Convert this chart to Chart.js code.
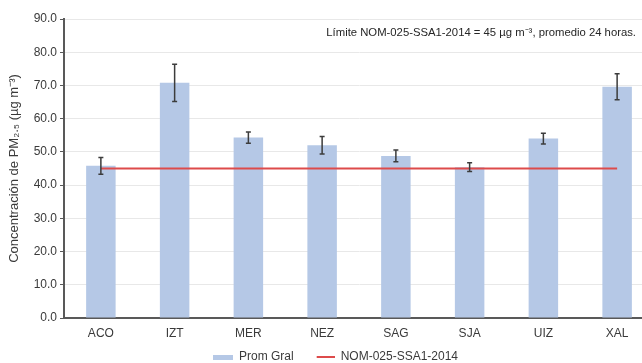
<!DOCTYPE html>
<html>
<head>
<meta charset="utf-8">
<script src="https://cdn.jsdelivr.net/npm/chart.js@4"></script>
<style>
  html, body { margin: 0; padding: 0; overflow: hidden; background: #fff; }
  #wrap { width: 654px; height: 373px; }
</style>
</head>
<body>
<div id="wrap"><canvas id="c"></canvas></div>
<script>
// Estaciones de monitoreo
const stations = ['ACO', 'IZT', 'MER', 'NEZ', 'SAG', 'SJA', 'UIZ', 'XAL'];
// Promedio general de PM2.5 (µg m-3)
const promGral = [45.8, 70.8, 54.3, 52.0, 48.8, 45.4, 54.0, 69.6];
// Semi-amplitud de las barras de error
const promErr = [2.5, 5.6, 1.7, 2.6, 1.8, 1.3, 1.6, 3.9];
// Límite normativo de 24 horas
const normLimit = [45, 45, 45, 45, 45, 45, 45, 45];
// Eje Y
const yMin = 0, yMax = 90, yStep = 10;

const FONT = "'Liberation Sans', Arial, sans-serif";
const BAR_COLOR = '#b5c8e6';
const LINE_COLOR = '#dd4b4b';
const INK = '#3a3a3a';
const KEY_W = 37;

// Legend key: a coloured strip right-aligned in a transparent box
function keyImage(w, h, color) {
  const c = document.createElement('canvas');
  c.width = KEY_W; c.height = h;
  const g = c.getContext('2d');
  g.fillStyle = color;
  g.fillRect(KEY_W - w, 0, w, h);
  return c;
}

const errorBars = {
  id: 'errorBars',
  afterDatasetsDraw(chart) {
    const meta = chart.getDatasetMeta(0);
    const y = chart.scales.y;
    const ctx = chart.ctx;
    ctx.save();
    ctx.strokeStyle = '#3c3c3c';
    ctx.lineWidth = 1.5;
    meta.data.forEach((bar, i) => {
      const top = y.getPixelForValue(promGral[i] + promErr[i]);
      const bot = y.getPixelForValue(promGral[i] - promErr[i]);
      const x = bar.x;
      ctx.beginPath();
      ctx.moveTo(x, top); ctx.lineTo(x, bot);
      ctx.moveTo(x - 2.5, top); ctx.lineTo(x + 2.5, top);
      ctx.moveTo(x - 2.5, bot); ctx.lineTo(x + 2.5, bot);
      ctx.stroke();
    });
    ctx.restore();
  }
};

const noteText = {
  id: 'noteText',
  afterDraw(chart) {
    const a = chart.chartArea;
    const ctx = chart.ctx;
    ctx.save();
    ctx.font = '11.3px ' + FONT;
    ctx.fillStyle = '#262626';
    ctx.textAlign = 'right';
    ctx.textBaseline = 'middle';
    ctx.fillText('Límite NOM-025-SSA1-2014 = 45 µg m\u207B\u00B3, promedio 24 horas.', a.right - 18, a.top + 14);
    ctx.restore();
  }
};

new Chart(document.getElementById('c'), {
  data: {
    labels: stations,
    datasets: [
      {
        type: 'bar',
        label: 'Prom Gral',
        data: promGral,
        backgroundColor: BAR_COLOR,
        categoryPercentage: 1,
        barPercentage: 0.4,
        order: 1,
        pointStyle: keyImage(20, 5, BAR_COLOR)
      },
      {
        type: 'line',
        label: 'NOM-025-SSA1-2014',
        data: normLimit,
        borderColor: LINE_COLOR,
        backgroundColor: LINE_COLOR,
        borderWidth: 2,
        pointRadius: 0,
        order: 0,
        pointStyle: keyImage(18, 2, LINE_COLOR)
      }
    ]
  },
  options: {
    responsive: true,
    maintainAspectRatio: false,
    animation: false,
    layout: { padding: { top: 19, right: 0, bottom: 0, left: 0 } },
    plugins: {
      tooltip: { enabled: false },
      legend: {
        position: 'bottom',
        labels: {
          usePointStyle: true,
          pointStyleWidth: KEY_W,
          font: { family: FONT, size: 12 },
          color: INK,
          padding: 4,
          sort: (a, b) => a.datasetIndex - b.datasetIndex
        }
      }
    },
    scales: {
      x: {
        grid: { display: false, drawTicks: false },
        border: { display: true, color: '#595959', width: 2 },
        ticks: { color: INK, font: { family: FONT, size: 12 }, padding: 8 },
        afterFit(s) { s.height = 29; }
      },
      y: {
        min: yMin, max: yMax,
        grid: { color: '#e8e8e8', lineWidth: 1, tickColor: '#595959', tickLength: 4 },
        border: { display: true, color: '#595959', width: 2 },
        ticks: {
          stepSize: yStep,
          color: INK,
          font: { family: FONT, size: 12 },
          padding: 3,
          callback: v => Number(v).toFixed(1)
        },
        title: {
          display: true,
          text: 'Concentración de PM\u2082.\u2085 (µg m\u207B\u00B3)',
          color: INK,
          font: { family: FONT, size: 13 },
          padding: { top: 7, bottom: 0 }
        },
        afterFit(s) { s.width = 64; }
      }
    }
  },
  plugins: [errorBars, noteText]
});
</script>
</body>
</html>
